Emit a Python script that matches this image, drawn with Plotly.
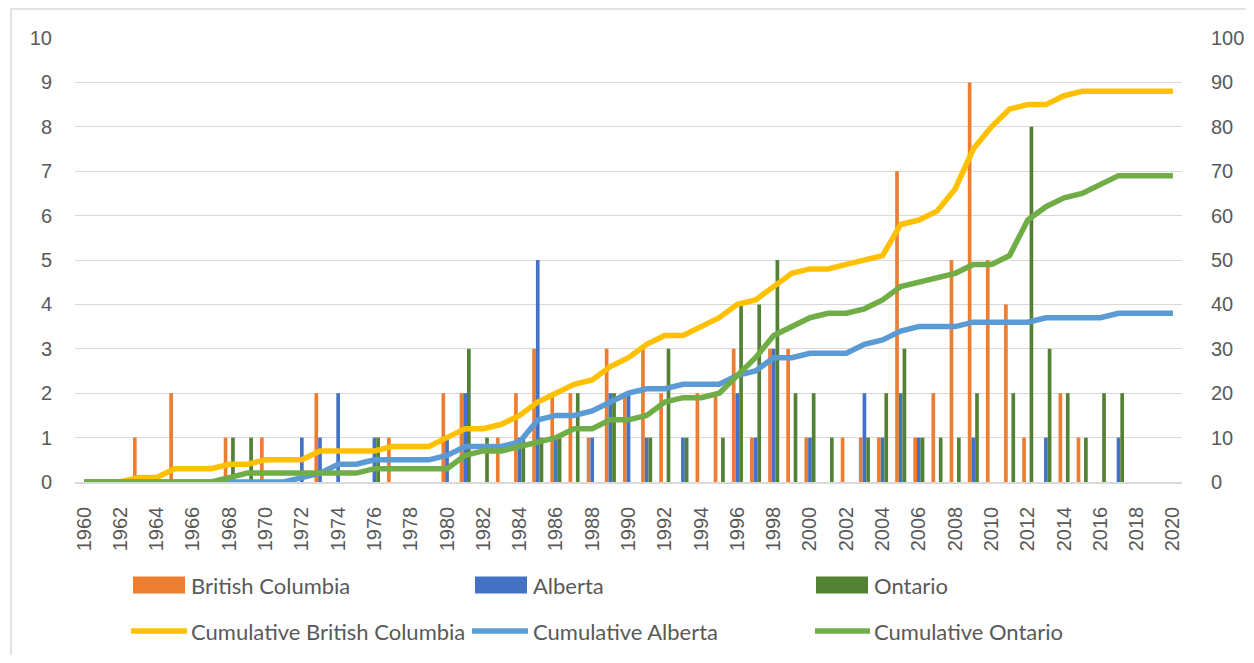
import plotly.graph_objects as go

years = list(range(1960, 2021))

bc = [0,0,0,1,0,2,0,0,1,0,
      1,0,0,2,0,0,0,1,0,0,
      2,2,0,1,2,3,2,2,1,3,
      2,3,2,0,2,2,3,1,3,3,
      1,0,1,1,1,7,1,2,5,9,
      5,4,1,0,2,1,0,0,0,0,
      0]
ab = [0,0,0,0,0,0,0,0,0,0,
      0,0,1,1,2,0,1,0,0,0,
      1,2,0,0,1,5,1,0,1,2,
      2,1,0,1,0,0,2,1,3,0,
      1,0,0,2,1,2,1,0,0,1,
      0,0,0,1,0,0,0,1,0,0,
      0]
on = [0,0,0,0,0,0,0,0,1,1,
      0,0,0,0,0,0,1,0,0,0,
      0,3,1,0,1,1,1,2,0,2,
      0,1,3,1,0,1,4,4,5,2,
      2,1,0,1,2,3,1,1,1,2,
      0,2,8,3,2,1,2,2,0,0,
      0]

cum_bc = [0,0,0,1,1,3,3,3,4,4,
          5,5,5,7,7,7,7,8,8,8,
          10,12,12,13,15,18,20,22,23,26,
          28,31,33,33,35,37,40,41,44,47,
          48,48,49,50,51,58,59,61,66,75,
          80,84,85,85,87,88,88,88,88,88,
          88]
cum_ab = [0,0,0,0,0,0,0,0,0,0,
          0,0,1,2,4,4,5,5,5,5,
          6,8,8,8,9,14,15,15,16,18,
          20,21,21,22,22,22,24,25,28,28,
          29,29,29,31,32,34,35,35,35,36,
          36,36,36,37,37,37,37,38,38,38,
          38]
cum_on = [0,0,0,0,0,0,0,0,1,2,
          2,2,2,2,2,2,3,3,3,3,
          3,6,7,7,8,9,10,12,12,14,
          14,15,18,19,19,20,24,28,33,35,
          37,38,38,39,41,44,45,46,47,49,
          49,51,59,62,64,65,67,69,69,69,
          69]

bar_names = ["British Columbia", "Alberta", "Ontario"]
line_names = ["Cumulative British Columbia", "Cumulative Alberta", "Cumulative Ontario"]
bar_colors = ["#ED7D31", "#4472C4", "#548235"]
line_colors = ["#FFC000", "#5B9BD5", "#70AD47"]

# page body has an 8px margin; work in screen coordinates and shift
OFF = 8
W, H = 1254 - 2 * OFF, 663 - 2 * OFF
L, R, T, B = 75, 1182, 38, 482   # plot area in screen px

def px(x):
    return (x - L) / (R - L)

def py(y):
    return (B - y) / (B - T)

fig = go.Figure()
for name, vals, col in zip(bar_names, [bc, ab, on], bar_colors):
    fig.add_trace(go.Bar(x=years, y=vals, name=name, marker_color=col,
                         marker_line_width=0, yaxis="y"))
for name, vals, col in zip(line_names, [cum_bc, cum_ab, cum_on], line_colors):
    fig.add_trace(go.Scatter(x=years, y=vals, name=name, mode="lines",
                             line=dict(color=col, width=5.5), yaxis="y2"))

tickfont = dict(family="Liberation Sans, Arial, sans-serif", size=20, color="#595959")

shapes = [dict(type="rect", xref="paper", yref="paper",
               x0=px(11), x1=px(1300), y0=py(9), y1=py(700),
               line=dict(color="#d9d9d9", width=1.5), fillcolor="rgba(0,0,0,0)",
               layer="below")]
annotations = []
leg_font = dict(family="Lato, sans-serif", size=22, color="#595959")
cols_rect = [(133, 185), (475, 527), (816, 868)]
cols_line = [(131, 187), (472, 528), (815, 870)]
text_x = [189, 531, 872]
row1_y, row2_y = 585, 631
for i in range(3):
    x0, x1 = cols_rect[i]
    shapes.append(dict(type="rect", xref="paper", yref="paper",
                       x0=px(x0), x1=px(x1), y0=py(row1_y - 8.5), y1=py(row1_y + 8.5),
                       fillcolor=bar_colors[i], line=dict(width=0)))
    annotations.append(dict(xref="paper", yref="paper", x=px(text_x[i]), y=py(row1_y),
                            xanchor="left", yanchor="middle", showarrow=False,
                            text=bar_names[i], font=leg_font))
    x0, x1 = cols_line[i]
    shapes.append(dict(type="line", xref="paper", yref="paper",
                       x0=px(x0), x1=px(x1), y0=py(row2_y), y1=py(row2_y),
                       line=dict(color=line_colors[i], width=5.5)))
    annotations.append(dict(xref="paper", yref="paper", x=px(text_x[i]), y=py(row2_y),
                            xanchor="left", yanchor="middle", showarrow=False,
                            text=line_names[i], font=leg_font))

fig.update_layout(
    width=W, height=H,
    margin=dict(l=L - OFF, r=W - (R - OFF), t=T - OFF, b=H - (B - OFF), pad=0,
                autoexpand=False),
    paper_bgcolor="white", plot_bgcolor="white",
    barmode="group", bargap=0.39, bargroupgap=0,
    showlegend=False,
    shapes=shapes, annotations=annotations,
    xaxis=dict(range=[1959.5, 2020.5], tickmode="linear", tick0=1960, dtick=2,
               tickangle=-90, tickfont=tickfont, tickformat="d", automargin=False,
               showgrid=False, zeroline=False, showline=True, linecolor="#d9d9d9",
               linewidth=1.5, ticks="", ticklabelstandoff=15),
    yaxis=dict(range=[0, 10], tickmode="linear", tick0=0, dtick=1, automargin=False,
               tickfont=tickfont, gridcolor="#d9d9d9", gridwidth=1.3,
               zeroline=False, showline=False, ticks="", ticklabelstandoff=22),
    yaxis2=dict(range=[0, 100], tickmode="linear", tick0=0, dtick=10, automargin=False,
                overlaying="y", side="right", tickfont=tickfont, showgrid=False,
                zeroline=False, showline=False, ticks="", ticklabelstandoff=28),
)

fig.write_html("out.html")
